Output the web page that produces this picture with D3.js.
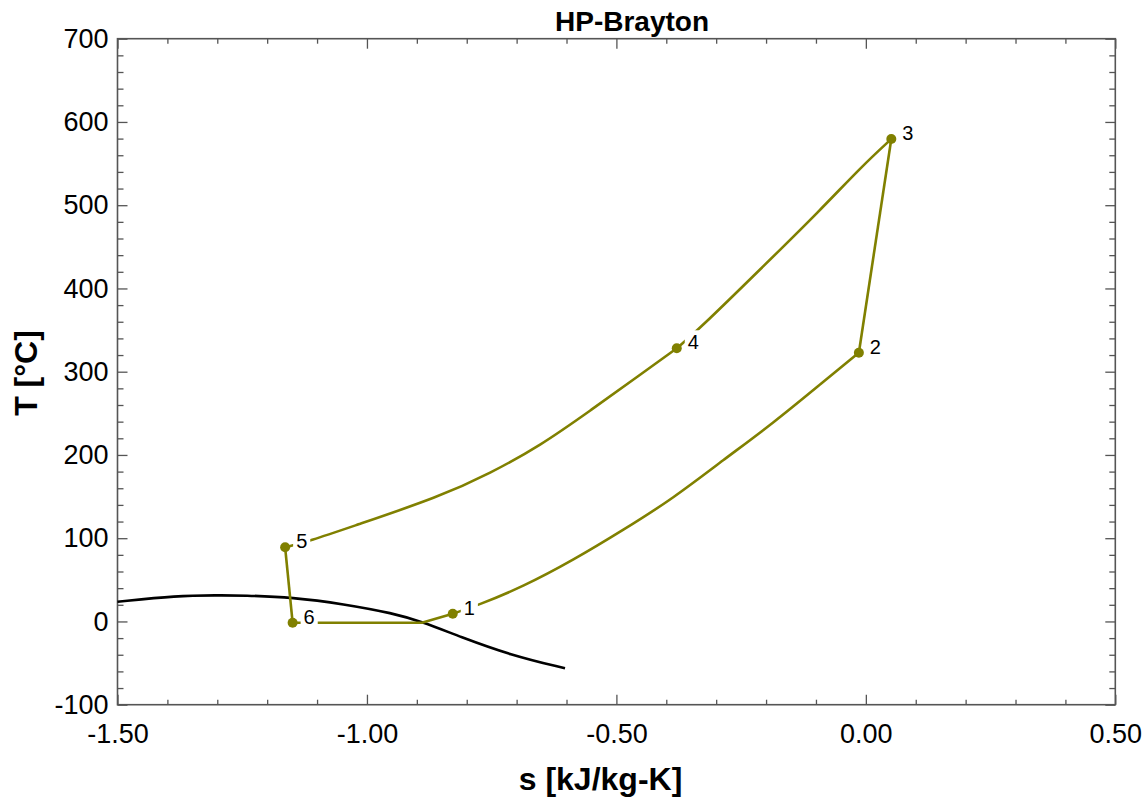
<!DOCTYPE html>
<html>
<head>
<meta charset="utf-8">
<script src="https://cdn.jsdelivr.net/npm/d3@7"></script>
<style>
  html, body { margin: 0; padding: 0; background: #fff; }
  svg { display: block; font-family: Arial, "Liberation Sans", sans-serif; }
</style>
</head>
<body>
<svg id="chart" width="1147" height="800"></svg>
<script>
// ---- data ----
const title = "HP-Brayton";
const xTitle = "s [kJ/kg-K]";
const yTitle = "T [°C]";

const xMajorTicks = [-1.5, -1.0, -0.5, 0.0, 0.5];
const yMajorTicks = [-100, 0, 100, 200, 300, 400, 500, 600, 700];

// state points
const stateLabels = ["1", "2", "3", "4", "5", "6"];
const stateS = [-0.828, -0.014, 0.051, -0.379, -1.164, -1.149];
const stateT = [9.3, 322.8, 579.5, 328.1, 89.1, -1.5];

// process 1-2 (curve)
const seg12S = [-0.828, -0.780, -0.687, -0.586, -0.486, -0.386, -0.286, -0.186, -0.085, -0.014];
const seg12T = [9.3, 18.9, 41.7, 73.8, 109.9, 147.9, 193.9, 238.0, 288.0, 322.8];
// process 2-3 (straight)
const seg23S = [-0.014, 0.051];
const seg23T = [322.8, 579.5];
// process 3-4 (curve)
const seg34S = [0.051, -0.009, -0.091, -0.213, -0.336, -0.379];
const seg34T = [579.5, 546.2, 494.2, 422.2, 350.1, 328.1];
// process 4-5 (curve)
const seg45S = [-0.379, -0.453, -0.553, -0.653, -0.753, -0.854, -1.031, -1.113, -1.164];
const seg45T = [328.1, 296.0, 253.0, 211.0, 178.0, 149.8, 113.8, 97.0, 89.1];
// process 5-6 (straight)
const seg56S = [-1.164, -1.149];
const seg56T = [89.1, -1.5];
// process 6-1 (evaporation then superheat)
const seg61S = [-1.149, -0.890, -0.828];
const seg61T = [-1.5, -1.5, 9.3];

// saturation dome
const satS = [-1.50, -1.381, -1.30, -1.248, -1.148, -1.047, -0.947, -0.890, -0.8135, -0.713, -0.603];
const satT = [23.7, 30.9, 31.4, 31.3, 29.0, 21.0, 9.8, -0.3, -18.3, -40.3, -56.3];

// ---- chart ----
const svg = d3.select("#chart");
const L = 117.5, R = 1115.3, T = 38.7, B = 704.7;
const x = d3.scaleLinear().domain([-1.5, 0.5]).range([L, R]);
const y = d3.scaleLinear().domain([-100, 700]).range([B, T]);

const xMinor = d3.range(-15, 6).map(v => v / 10).filter(v => !xMajorTicks.some(m => Math.abs(m - v) < 1e-9));
const yMinor = d3.range(-100, 701, 20).filter(v => v % 100 !== 0);

const axisColor = "#555";
const fmtX = d => d.toFixed(2);
const fmtY = d => String(d);

function styleAxis(g) {
  g.select(".domain").remove();
  g.selectAll(".tick line").attr("stroke", axisColor).attr("stroke-width", 1.3);
  g.selectAll(".tick text").attr("fill", "#000").style("font-size", "27px")
    .style("font-family", "Arial, 'Liberation Sans', sans-serif");
}

// bottom
svg.append("g").attr("transform", `translate(0,${B})`)
  .call(d3.axisBottom(x).tickValues(xMajorTicks).tickSize(-10).tickPadding(19).tickFormat(fmtX))
  .call(styleAxis);
svg.append("g").attr("transform", `translate(0,${B})`)
  .call(d3.axisBottom(x).tickValues(xMinor).tickSize(-5).tickFormat(""))
  .call(styleAxis);
// top
svg.append("g").attr("transform", `translate(0,${T})`)
  .call(d3.axisTop(x).tickValues(xMajorTicks).tickSize(-10).tickFormat(""))
  .call(styleAxis);
svg.append("g").attr("transform", `translate(0,${T})`)
  .call(d3.axisTop(x).tickValues(xMinor).tickSize(-5).tickFormat(""))
  .call(styleAxis);
// left
svg.append("g").attr("transform", `translate(${L},0)`)
  .call(d3.axisLeft(y).tickValues(yMajorTicks).tickSize(-10).tickPadding(9).tickFormat(fmtY))
  .call(styleAxis);
svg.append("g").attr("transform", `translate(${L},0)`)
  .call(d3.axisLeft(y).tickValues(yMinor).tickSize(-6).tickFormat(""))
  .call(styleAxis);
// right
svg.append("g").attr("transform", `translate(${R},0)`)
  .call(d3.axisRight(y).tickValues(yMajorTicks).tickSize(-10).tickFormat(""))
  .call(styleAxis);
svg.append("g").attr("transform", `translate(${R},0)`)
  .call(d3.axisRight(y).tickValues(yMinor).tickSize(-6).tickFormat(""))
  .call(styleAxis);

// frame
svg.append("rect").attr("x", L).attr("y", T).attr("width", R - L).attr("height", B - T)
  .attr("fill", "none").attr("stroke", axisColor).attr("stroke-width", 1.6);

const plot = svg.append("g");

// saturation dome
const satLine = d3.line().x(d => x(d[0])).y(d => y(d[1])).curve(d3.curveBasis);
plot.append("path").datum(satS.map((s, i) => [s, satT[i]]))
  .attr("d", satLine).attr("fill", "none").attr("stroke", "#000").attr("stroke-width", 2.6);

// cycle
const olive = "#808000";
const smooth = d3.line().x(d => x(d[0])).y(d => y(d[1])).curve(d3.curveBasis);
const straight = d3.line().x(d => x(d[0])).y(d => y(d[1]));
const segs = [
  [seg12S, seg12T, smooth],
  [seg23S, seg23T, straight],
  [seg34S, seg34T, smooth],
  [seg45S, seg45T, smooth],
  [seg56S, seg56T, straight],
  [seg61S, seg61T, straight]
];
segs.forEach(([sArr, tArr, gen]) => {
  plot.append("path").datum(sArr.map((s, i) => [s, tArr[i]]))
    .attr("d", gen).attr("fill", "none").attr("stroke", olive)
    .attr("stroke-width", 2.6).attr("stroke-linejoin", "round");
});

// markers
plot.selectAll("circle.state").data(stateS.map((s, i) => ({ s, t: stateT[i], label: stateLabels[i] })))
  .enter().append("circle").attr("class", "state")
  .attr("cx", d => x(d.s)).attr("cy", d => y(d.t)).attr("r", 5).attr("fill", olive);

// labels with white background
stateS.forEach((s, i) => {
  const g = plot.append("g");
  const txt = g.append("text")
    .attr("x", x(s) + 11).attr("y", y(stateT[i]) + 1)
    .style("font-size", "20px").attr("fill", "#000")
    .text(stateLabels[i]);
  const bb = txt.node().getBBox();
  g.insert("rect", "text").attr("x", bb.x - 3).attr("y", bb.y - 1)
    .attr("width", bb.width + 6).attr("height", bb.height + 1).attr("fill", "#fff");
});

// titles
svg.append("text").attr("x", 632).attr("y", 31).attr("text-anchor", "middle")
  .style("font-size", "28px").style("font-weight", "bold").text(title);
svg.append("text").attr("x", 600.5).attr("y", 790).attr("text-anchor", "middle")
  .style("font-size", "32px").style("font-weight", "bold").text(xTitle);
svg.append("text").attr("transform", "translate(37,373) rotate(-90)").attr("text-anchor", "middle")
  .style("font-size", "32px").style("font-weight", "bold").text(yTitle);
</script>
</body>
</html>
